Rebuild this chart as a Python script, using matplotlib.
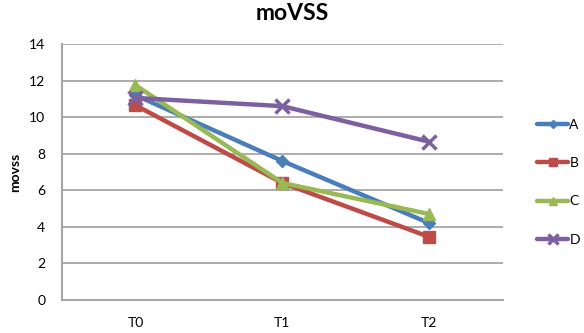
import matplotlib.pyplot as plt

plt.rcParams['font.family'] = ['Lato', 'DejaVu Sans']

times = ['T0', 'T1', 'T2']
series = ['A', 'B', 'C', 'D']
a_vals = [11.2, 7.6, 4.2]
b_vals = [10.65, 6.4, 3.45]
c_vals = [11.75, 6.4, 4.7]
d_vals = [11.05, 10.6, 8.65]

colors = ['#4a7ebb', '#be4b48', '#98b954', '#7d60a0']
markers = ['D', 's', '^', 'x']
sizes = [6, 9, 9, 10]

fig = plt.figure(figsize=(5.84, 3.33), dpi=100)
ax = fig.add_axes([0.106, 0.099, 0.755, 0.769])

x = range(len(times))
for name, vals, col, mk, ms in zip(series, [a_vals, b_vals, c_vals, d_vals], colors, markers, sizes):
    ax.plot(x, vals, color=col, lw=3.2, marker=mk, ms=ms, mew=2.5 if mk == 'x' else 1,
            mec=col, mfc=col, label=name, solid_capstyle='round')

ax.set_xlim(-0.5, 2.5)
ax.set_ylim(0, 14)
ax.set_yticks(range(0, 15, 2))
ax.set_xticks(list(x))
ax.set_xticklabels(times)
ax.tick_params(length=0, labelsize=10, pad=12)
ax.tick_params(axis='x', pad=12)
ax.grid(axis='y', color='#a6a6a6', lw=1.3)
ax.set_axisbelow(True)
for s in ['top', 'right']:
    ax.spines[s].set_visible(False)
for s in ['left', 'bottom']:
    ax.spines[s].set_color('#a6a6a6')
    ax.spines[s].set_linewidth(1.5)

ax.set_ylabel('movss', fontsize=10, fontweight='bold', labelpad=6)
fig.suptitle('moVSS', fontsize=16.5, fontweight='bold', y=0.99)

ax.legend(loc='center left', bbox_to_anchor=(1.05, 0.46), frameon=False,
          fontsize=10, labelspacing=1.9, handlelength=2.2, handletextpad=0.1,
          markerscale=0.7)

fig.savefig('out.png', dpi=100)
